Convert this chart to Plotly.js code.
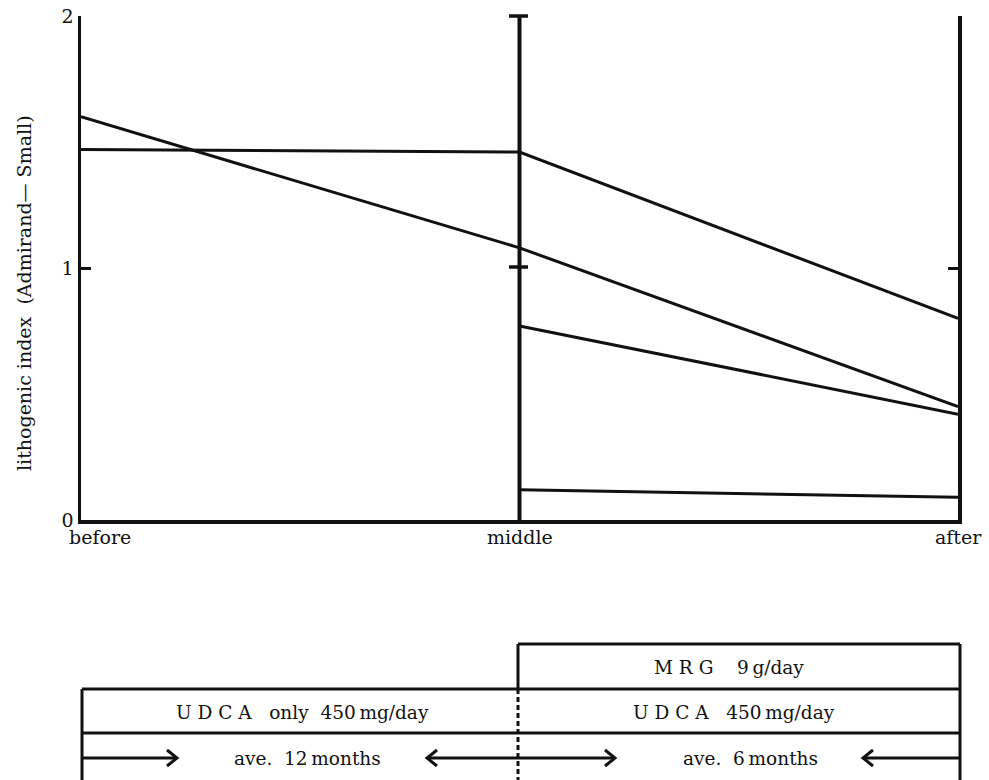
<!DOCTYPE html>
<html>
<head>
<meta charset="utf-8">
<script src="https://cdn.plot.ly/plotly-3.0.1.min.js"></script>
<style>html,body{margin:0;padding:0;background:#fff;}#chart{width:989px;height:780px;}</style>
</head>
<body>
<div id="chart"></div>
<script>
// ---- data ----
const stages = ['before', 'middle', 'after'];
const stageX = [0, 1, 2];
const case1 = [1.47, 1.46, 0.80];
const case2 = [1.60, 1.08, 0.45];
const case3 = [null, 0.77, 0.42];
const case4 = [null, 0.12, 0.09];
const yTickVals = [0, 1, 2];
const yTickText = ['0', '1', '2'];
const yTitle = 'lithogenic index\u00a0\u00a0(Admirand\u2014\u00a0Small)';
const phase1Drug = 'U\u00a0D\u00a0C\u00a0A\u00a0\u00a0\u00a0only\u00a0\u00a0450\u2009mg/day';
const phase2Drug = 'U\u00a0D\u00a0C\u00a0A\u00a0\u00a0\u00a0450\u2009mg/day';
const phase2Add = 'M\u00a0R\u00a0G\u00a0\u00a0\u00a0\u00a09\u2009g/day';
const phase1Dur = 'ave.\u00a0\u00a012\u2009months';
const phase2Dur = 'ave.\u00a0\u00a06\u2009months';

// ---- layout geometry (pixels) ----
const L = 81, R = 958, T = 16, B = 520;
const px = x => (x - L) / (R - L);
const py = y => (B - y) / (B - T);
const FONT = 'DejaVu Serif, Liberation Serif, serif';
const INK = '#111';

const series = [case1, case2, case3, case4];
const traces = series.map(v => ({
  x: stageX, y: v, type: 'scatter', mode: 'lines',
  line: {color: INK, width: 3}, connectgaps: false, hoverinfo: 'skip'
}));

function seg(x0, y0, x1, y1, w, dash) {
  return {type: 'line', xref: 'paper', yref: 'paper',
    x0: px(x0), y0: py(y0), x1: px(x1), y1: py(y1),
    line: {color: INK, width: w || 3, dash: dash || 'solid'}};
}
function chevron(tipX, tipY, dir) {
  const bx = tipX - dir * 10;
  return {type: 'path', xref: 'paper', yref: 'paper',
    path: `M ${px(bx)} ${py(tipY - 8)} L ${px(tipX)} ${py(tipY)} L ${px(bx)} ${py(tipY + 8)}`,
    line: {color: INK, width: 3}};
}

const shapes = [
  // middle vertical axis
  {type: 'line', xref: 'x', yref: 'y', x0: 1, x1: 1, y0: 0, y1: 2, line: {color: INK, width: 4}},
  seg(509, 267, 528, 267, 3.5),
  seg(509, 16, 528, 16, 3.5),
  // treatment diagram
  seg(518, 644, 960, 644),
  seg(518, 644, 518, 689),
  seg(960, 644, 960, 780),
  seg(82, 689, 960, 689),
  seg(82, 733, 960, 733),
  seg(82, 689, 82, 780),
  seg(518, 689, 518, 780, 3, '5px,3px'),
  seg(82, 758, 177, 758),
  seg(427, 758, 518, 758),
  seg(518, 758, 615, 758),
  seg(863, 758, 960, 758),
  chevron(177, 758, 1),
  chevron(427, 758, -1),
  chevron(615, 758, 1),
  chevron(863, 758, -1)
];

function label(text, x, y, size, extra) {
  return Object.assign({text: text, xref: 'paper', yref: 'paper', x: px(x), y: py(y),
    xanchor: 'center', yanchor: 'middle', showarrow: false,
    font: {family: FONT, size: size || 18.5, color: INK}}, extra || {});
}

const annotations = [
  label(yTitle, 24, 293, 19, {textangle: -90}),
  // x category labels
  {text: stages[0], xref: 'x', yref: 'paper', x: stageX[0], y: py(537), xanchor: 'left', yanchor: 'middle',
   xshift: -14, showarrow: false, font: {family: FONT, size: 19, color: INK}},
  {text: stages[1], xref: 'x', yref: 'paper', x: stageX[1], y: py(537), xanchor: 'center', yanchor: 'middle',
   showarrow: false, font: {family: FONT, size: 19, color: INK}},
  {text: stages[2], xref: 'x', yref: 'paper', x: stageX[2], y: py(537), xanchor: 'center', yanchor: 'middle',
   showarrow: false, font: {family: FONT, size: 19, color: INK}},
  label(phase2Add, 729, 667),
  label(phase1Drug, 302, 712),
  label(phase2Drug, 734, 712),
  label(phase1Dur, 307, 758),
  label(phase2Dur, 750, 758)
];

const layout = {
  width: 989, height: 780,
  margin: {l: L, r: 989 - R, t: T, b: 780 - B, pad: 0},
  paper_bgcolor: '#fff', plot_bgcolor: '#fff',
  showlegend: false,
  font: {family: FONT, color: INK},
  xaxis: {range: [0, 2], showgrid: false, zeroline: false, showline: true, linewidth: 3.5,
    linecolor: INK, ticks: '', showticklabels: false, mirror: false, fixedrange: true},
  yaxis: {range: [0, 2], showgrid: false, zeroline: false, showline: true, linewidth: 3.5,
    linecolor: INK, mirror: 'ticks', ticks: 'inside', ticklen: 10, tickwidth: 3, tickcolor: INK,
    tickvals: yTickVals, ticktext: yTickText, tickfont: {family: FONT, size: 19, color: INK},
    fixedrange: true},
  shapes: shapes,
  annotations: annotations
};

Plotly.newPlot('chart', traces, layout, {staticPlot: true, displayModeBar: false});
</script>
</body>
</html>
